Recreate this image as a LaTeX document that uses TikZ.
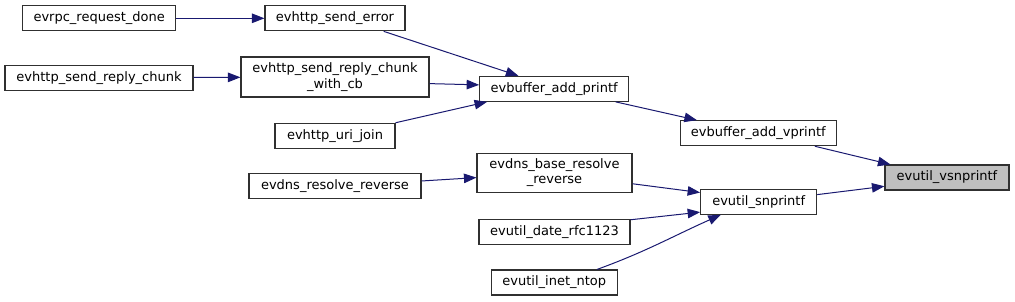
\documentclass[tikz,border=0pt]{standalone}
\usepackage{fontspec}
\setmainfont{DejaVu Sans}
\usetikzlibrary{arrows.meta}
\definecolor{edgeblue}{HTML}{191970}
\definecolor{boxline}{HTML}{303030}

\begin{document}
\begin{tikzpicture}[x=1pt, y=1pt,
  fnbox/.style={draw=boxline, line width=1.1pt, fill=white, align=center,
                font=\fontsize{13}{15.5}\selectfont, minimum height=25pt, inner sep=0pt},
  cur/.style={fnbox, fill=black!25},
  ar/.style={-{Triangle[length=12.5pt, width=9.5pt]}, edgeblue, line width=1pt}]
\useasboundingbox (0,0) rectangle (1015,-301);
\node[fnbox, minimum width=153pt] (rd) at (99.2,-18.3) {evrpc\_request\_done};
\node[fnbox, minimum width=140pt] (se) at (335,-18.3) {evhttp\_send\_error};
\node[fnbox, minimum width=188pt] (ch) at (99,-77.8) {evhttp\_send\_reply\_chunk};
\node[fnbox, minimum width=188pt, minimum height=40pt] (cb) at (335,-77) {evhttp\_send\_reply\_chunk\\\_with\_cb};
\node[fnbox, minimum width=120pt] (uj) at (335,-135.8) {evhttp\_uri\_join};
\node[fnbox, minimum width=149pt] (pf) at (554.2,-88.8) {evbuffer\_add\_printf};
\node[fnbox, minimum width=156pt] (vp) at (758.3,-133.2) {evbuffer\_add\_vprintf};
\node[cur, minimum width=124pt] (vs) at (947,-177.5) {evutil\_vsnprintf};
\node[fnbox, minimum width=155pt, minimum height=39pt] (db) at (554.5,-172.8) {evdns\_base\_resolve\\\_reverse};
\node[fnbox, minimum width=172pt] (dr) at (335,-186.3) {evdns\_resolve\_reverse};
\node[fnbox, minimum width=116pt] (sn) at (758.7,-201.8) {evutil\_snprintf};
\node[fnbox, minimum width=151pt] (rf) at (554.5,-231.8) {evutil\_date\_rfc1123};
\node[fnbox, minimum width=126pt] (nt) at (554.3,-282.5) {evutil\_inet\_ntop};
\draw[ar] (rd) -- (se);
\draw[ar] (ch) -- (cb);
\draw[ar] (se.-15) -- (pf.160);
\draw[ar] (cb.-4) -- (pf.177);
\draw[ar] (uj.north east) -- (pf.191);
\draw[ar] (pf.-12) -- (vp.168);
\draw[ar] (vp.-13) -- (vs.167);
\draw[ar] (sn.7) -- (vs.188);
\draw[ar] (dr) -- (db);
\draw[ar] (db.-8) -- (sn.171);
\draw[ar] (rf.9) -- (sn.190);
\draw[ar] (nt.17) to[out=20, in=204] (sn.199);
\end{tikzpicture}
\end{document}
